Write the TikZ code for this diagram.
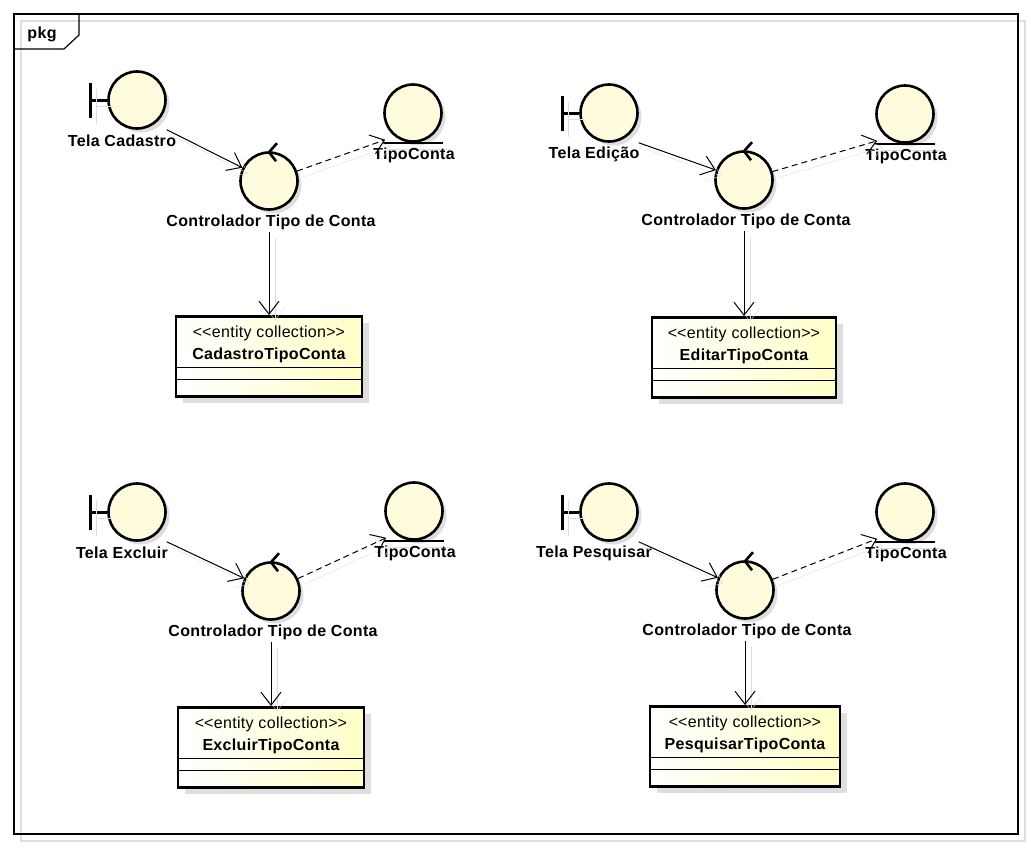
\documentclass[tikz,border=0pt]{standalone}
\usepackage{fontspec}
\newfontfamily\umlfont{Liberation Sans}[LetterSpace=2.0]
\usetikzlibrary{calc}
\usetikzlibrary{shadows}
\usetikzlibrary{arrows.meta}
\definecolor{umlfill}{RGB}{255,252,222}
\definecolor{umlyellow}{RGB}{255,255,200}
\definecolor{umlshadow}{RGB}{222,222,222}
\tikzset{
  every node/.style={font=\umlfont\fontsize{16}{19}\selectfont},
  robust/.style={circle, draw, line width=2.6pt, fill=umlfill, minimum size=57pt, inner sep=0pt,
    drop shadow={shadow xshift=4pt, shadow yshift=-4pt, fill=umlshadow, opacity=1}},
  classbox/.style={rectangle, draw, line width=2.6pt, left color=white, right color=umlyellow,
    minimum height=80pt, anchor=north,
    drop shadow={shadow xshift=7pt, shadow yshift=-7pt, fill=umlshadow, opacity=1}},
  lbl/.style={font=\umlfont\fontsize{16}{19}\selectfont\bfseries, inner sep=2pt},
  stereo/.style={font=\umlfont\fontsize{16}{19}\selectfont, inner sep=0pt},
  shadowline/.style={preaction={draw=umlshadow, solid, transform canvas={shift={(6pt,-6pt)}}}},
  barline/.style={line width=3pt, shadowline},
  assoc/.style={line width=1pt, -{Straight Barb[length=13pt,width=20pt,line width=1pt]}, shadowline},
  depend/.style={assoc, dash pattern=on 6pt off 4pt}
}
\begin{document}
\begin{tikzpicture}[x=1pt, y=-1pt]
  \useasboundingbox (0,0) rectangle (1031,847);
  % moldura do pacote
  \draw[umlshadow, line width=1.5pt] (21,21) rectangle (1025,841);
  \draw[line width=1.2pt] (14,14) rectangle (1018,834);
  \draw[line width=1.2pt] (79,14) -- (79,35) -- (64,49) -- (14,49);
  \node[lbl] (pkg) at (42,34) {pkg};
  \foreach \n/\bx/\by/\cx/\cy/\ex/\ey/\bt/\bw/\tela/\caso in {
      cad/137/100/269/181/413/113/315/186/Tela Cadastro/CadastroTipoConta,
      edi/609/113/744/180/905/114/316/184/Tela Edição/EditarTipoConta,
      exc/137/512/271/591/414/511/706/186/Tela Excluir/ExcluirTipoConta,
      pes/609/512/745/590/905/512/705/190/Tela Pesquisar/PesquisarTipoConta}
  {
    % fronteira
    \node[robust] (bnd\n) at (\bx,\by) {};
    \draw[barline] (bnd\n.west) -- ++(-17,0);
    \draw[barline] ($(bnd\n.west)+(-17,-17.5)$) -- ++(0,35);
    \node[lbl] (bl\n) at (\bx-15,\by+41) {\tela};
    % controle
    \node[robust] (ctl\n) at (\cx,\cy) {};
    \draw[line width=2.6pt] ($(ctl\n.north)+(8,-8)$) -- ($(ctl\n.north)+(0,1)$) -- ($(ctl\n.north)+(7,10)$);
    \node[lbl] (cl\n) at (\cx+2,\cy+41) {Controlador Tipo de Conta};
    % entidade
    \node[robust] (ent\n) at (\ex,\ey) {};
    \draw[barline, line width=2.6pt] (ent\n.west |- ent\n.south) -- (ent\n.east |- ent\n.south);
    \node[lbl] (el\n) at (\ex+1,\ey+42) {TipoConta};
    % colecao
    \node[classbox, minimum width=\bw] (box\n) at (\cx,\bt) {};
    \node[stereo] (st\n) at (\cx,\bt+18) {<\kern0pt<entity collection>\kern0pt>};
    \node[lbl] (nm\n) at (\cx,\bt+40) {\caso};
    \draw[line width=1pt] ($(box\n.north west)+(1,52)$) -- ($(box\n.north east)+(-1,52)$);
    \draw[line width=1pt] ($(box\n.north west)+(1,64)$) -- ($(box\n.north east)+(-1,64)$);
    % ligacoes
    \coordinate (tg\n) at ($(ent\n.west |- ent\n.south)+(2,-3)$);
    \draw[assoc] (bnd\n.east |- bnd\n.south) -- (ctl\n);
    \draw[depend] (ctl\n) -- (tg\n);
    \draw[assoc] (cl\n.south -| ctl\n) -- (box\n.north);
  }
\end{tikzpicture}
\end{document}
